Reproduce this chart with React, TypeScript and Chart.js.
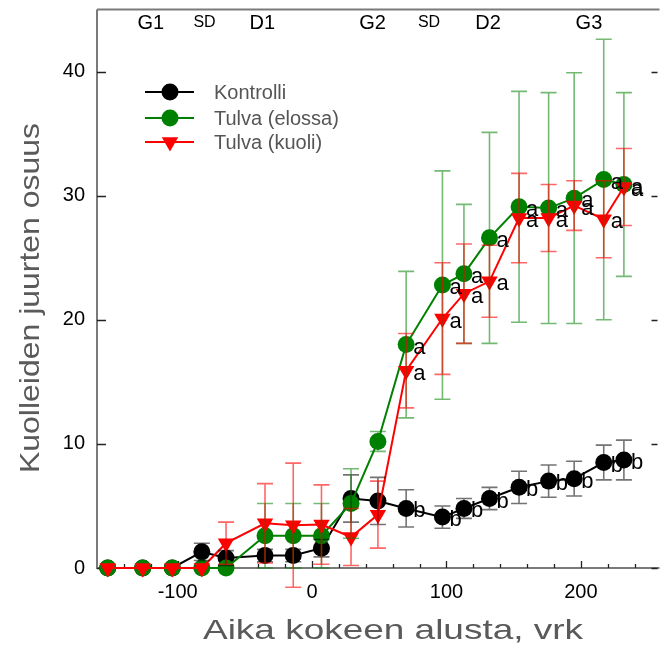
import React, { useEffect, useRef } from "react";
import { Chart, registerables } from "chart.js";
Chart.register(...registerables);

// ---- data ----
const days = [-152, -126, -104, -82, -64, -35, -14, 7, 29, 49, 70, 97, 113, 132, 154, 176, 195, 217, 232];

const kontrolli = [0, 0, 0, 1.3, 0.8, 1.0, 1.0, 1.6, 5.6, 5.4, 4.8, 4.1, 4.8, 5.6, 6.5, 7.0, 7.2, 8.5, 8.7];
const kontrolliErr = [0, 0, 0, 0.7, 0.6, 0.5, 0.5, 0.7, 1.9, 1.9, 1.5, 0.9, 0.8, 0.9, 1.3, 1.3, 1.4, 1.4, 1.6];

const elossa = [0, 0, 0, 0, 0, 2.6, 2.6, 2.6, 5.2, 10.2, 18.0, 22.8, 23.7, 26.6, 29.1, 29.0, 29.8, 31.3, 30.9];
const elossaErr = [0, 0, 0, 0, 0, 2.6, 2.6, 2.6, 2.8, 0.8, 5.9, 9.2, 5.6, 8.5, 9.3, 9.3, 10.1, 11.3, 7.4];

const kuoli = [0, 0, 0, 0, 2.0, 3.6, 3.45, 3.5, 2.5, 4.3, 15.9, 20.1, 22.1, 23.1, 28.2, 28.2, 29.2, 28.1, 30.7];
const kuoliErr = [0, 0, 0, 0, 1.7, 3.2, 5.0, 3.2, 2.3, 2.7, 3.0, 4.5, 4.0, 2.9, 3.6, 2.7, 2.0, 3.1, 3.1];

const kontrolliLetters = ["", "", "", "", "", "", "", "", "", "", "b", "b", "b", "b", "b", "b", "b", "b", "b"];
const elossaLetters = ["", "", "", "", "", "", "", "", "", "", "a", "a", "a", "a", "a", "a", "a", "a", "a"];
const kuoliLetters = ["", "", "", "", "", "", "", "", "", "", "a", "a", "a", "a", "a", "a", "a", "a", "a"];

const xTicks = [-100, 0, 100, 200];
const yTicks = [0, 10, 20, 30, 40];
const phaseLabels = ["G1", "SD", "D1", "G2", "SD", "D2", "G3"];
const phaseX = [-120, -80, -37, 45, 87, 131, 206];
const seriesNames = ["Kontrolli", "Tulva (elossa)", "Tulva (kuoli)"];

const FONT = '"Liberation Sans", Arial, Helvetica, sans-serif';

export default function App() {
  const ref = useRef<HTMLCanvasElement>(null);

  useEffect(() => {
    if (!ref.current) return;

    const errSets = [
      { vals: kontrolli, err: kontrolliErr, color: "rgba(0,0,0,0.55)", letters: kontrolliLetters, ds: 0 },
      { vals: elossa, err: elossaErr, color: "rgba(0,128,0,0.55)", letters: elossaLetters, ds: 1 },
      { vals: kuoli, err: kuoliErr, color: "rgba(255,0,0,0.6)", letters: kuoliLetters, ds: 2 },
    ];

    const plugin = {
      id: "custom",
      beforeDatasetsDraw(chart: any) {
        const ctx = chart.ctx;
        const a = chart.chartArea;
        const xs = chart.scales.x;
        const ys = chart.scales.y;
        ctx.save();
        // frame
        ctx.strokeStyle = "#7a7a7a";
        ctx.lineWidth = 2;
        ctx.beginPath();
        ctx.moveTo(a.left, a.top);
        ctx.lineTo(a.right + 2, a.top);
        ctx.moveTo(a.left, a.top);
        ctx.lineTo(a.left, a.bottom);
        ctx.lineTo(a.right + 2, a.bottom);
        ctx.stroke();
        // y ticks inside (left and right)
        ctx.strokeStyle = "#222";
        ctx.lineWidth = 1.3;
        ctx.beginPath();
        for (const v of yTicks) {
          const py = Math.round(ys.getPixelForValue(v)) + 0.5;
          ctx.moveTo(a.left, py);
          ctx.lineTo(a.left + 9, py);
          ctx.moveTo(a.right - 6, py);
          ctx.lineTo(a.right, py);
        }
        // x ticks inside, minor every 20
        for (let v = -140; v <= 250; v += 20) {
          const px = Math.round(xs.getPixelForValue(v)) + 0.5;
          const len = v % 100 === 0 ? 7 : 4;
          ctx.moveTo(px, a.bottom);
          ctx.lineTo(px, a.bottom - len);
        }
        ctx.stroke();
        ctx.restore();
      },
      afterDatasetsDraw(chart: any) {
        const ctx = chart.ctx;
        const xs = chart.scales.x;
        const ys = chart.scales.y;
        ctx.save();
        // error bars
        for (const s of errSets) {
          ctx.strokeStyle = s.color;
          ctx.lineWidth = 1.6;
          ctx.beginPath();
          for (let i = 0; i < days.length; i++) {
            if (!s.err[i]) continue;
            const px = xs.getPixelForValue(days[i]);
            const top = ys.getPixelForValue(s.vals[i] + s.err[i]);
            const bot = ys.getPixelForValue(s.vals[i] - s.err[i]);
            ctx.moveTo(px, top);
            ctx.lineTo(px, bot);
            ctx.moveTo(px - 8, top);
            ctx.lineTo(px + 8, top);
            ctx.moveTo(px - 8, bot);
            ctx.lineTo(px + 8, bot);
          }
          ctx.stroke();
        }
        // significance letters
        ctx.fillStyle = "#000";
        ctx.font = `22px ${FONT}`;
        ctx.textAlign = "left";
        ctx.textBaseline = "middle";
        for (const s of errSets) {
          const meta = chart.getDatasetMeta(s.ds);
          for (let i = 0; i < days.length; i++) {
            if (!s.letters[i]) continue;
            const el = meta.data[i];
            ctx.fillText(s.letters[i], el.x + 7, el.y + 3);
          }
        }
        ctx.restore();
      },
      afterDraw(chart: any) {
        const ctx = chart.ctx;
        const xs = chart.scales.x;
        ctx.save();
        // phase labels
        ctx.fillStyle = "#000";
        ctx.textAlign = "center";
        ctx.textBaseline = "middle";
        phaseLabels.forEach((t, i) => {
          ctx.font = t === "SD" ? `16px ${FONT}` : `20px ${FONT}`;
          ctx.fillText(t, xs.getPixelForValue(phaseX[i]), 23);
        });
        // legend
        const colors = ["#000", "#008000", "#ff0000"];
        const rows = [92, 118, 142];
        seriesNames.forEach((n, i) => {
          const y = rows[i];
          ctx.strokeStyle = colors[i];
          ctx.lineWidth = 2;
          ctx.beginPath();
          ctx.moveTo(145, y);
          ctx.lineTo(194, y);
          ctx.stroke();
          ctx.fillStyle = colors[i];
          ctx.beginPath();
          if (i < 2) {
            ctx.arc(170, y, 8.5, 0, Math.PI * 2);
          } else {
            const r = 9.5;
            ctx.moveTo(170 - r * 0.866, y - r * 0.5);
            ctx.lineTo(170 + r * 0.866, y - r * 0.5);
            ctx.lineTo(170, y + r);
            ctx.closePath();
          }
          ctx.fill();
          ctx.fillStyle = "#555";
          ctx.font = `20px ${FONT}`;
          ctx.textAlign = "left";
          ctx.textBaseline = "middle";
          ctx.fillText(n, 214, y + 1);
        });
        // axis titles (stretched along text direction)
        ctx.fillStyle = "#5a5a5a";
        ctx.textAlign = "center";
        ctx.textBaseline = "middle";
        ctx.font = `28px ${FONT}`;
        const xt = "Aika kokeen alusta, vrk";
        const wx = ctx.measureText(xt).width;
        ctx.save();
        ctx.translate(393, 631);
        ctx.scale(380 / wx, 1);
        ctx.fillText(xt, 0, 0);
        ctx.restore();
        const yt = "Kuolleiden juurten osuus";
        ctx.font = `28px ${FONT}`;
        const wy = ctx.measureText(yt).width;
        ctx.save();
        ctx.translate(31, 298);
        ctx.rotate(-Math.PI / 2);
        ctx.scale(350 / wy, 1);
        ctx.fillText(yt, 0, 0);
        ctx.restore();
        ctx.restore();
      },
    };

    const mk = (vals: number[]) => days.map((d, i) => ({ x: d, y: vals[i] }));

    const chart = new Chart(ref.current, {
      type: "line",
      data: {
        datasets: [
          {
            label: seriesNames[0],
            data: mk(kontrolli),
            borderColor: "#000",
            backgroundColor: "#000",
            borderWidth: 2,
            pointRadius: 8.5,
            pointBorderWidth: 0,
            pointStyle: "circle",
            order: 3,
            clip: false,
          } as any,
          {
            label: seriesNames[1],
            data: mk(elossa),
            borderColor: "#008000",
            backgroundColor: "#008000",
            borderWidth: 2,
            pointRadius: 8.5,
            pointBorderWidth: 0,
            pointStyle: "circle",
            order: 2,
            clip: false,
          },
          {
            label: seriesNames[2],
            data: mk(kuoli),
            borderColor: "#ff0000",
            backgroundColor: "#ff0000",
            borderWidth: 2,
            pointRadius: 9.5,
            pointBorderWidth: 0,
            pointStyle: "triangle",
            pointRotation: 180,
            order: 1,
            clip: false,
          },
        ],
      },
      options: {
        responsive: false,
        animation: false,
        devicePixelRatio: 1,
        layout: { padding: { top: 8, right: 0, left: 0, bottom: 0 } },
        plugins: { legend: { display: false }, tooltip: { enabled: false } },
        scales: {
          x: {
            type: "linear",
            min: -160,
            max: 257,
            grid: { display: false, drawTicks: false },
            border: { display: false },
            afterBuildTicks: (s: any) => {
              s.ticks = xTicks.map((v) => ({ value: v }));
            },
            afterFit: (s: any) => {
              s.height = 92;
              s.paddingLeft = 0;
              s.paddingRight = 0;
            },
            ticks: {
              padding: 12,
              maxRotation: 0,
              autoSkip: false,
              color: "#000",
              font: { family: FONT, size: 20 },
            },
          },
          y: {
            type: "linear",
            min: 0,
            max: 45,
            grid: { display: false, drawTicks: false },
            border: { display: false },
            afterBuildTicks: (s: any) => {
              s.ticks = yTicks.map((v) => ({ value: v }));
            },
            afterFit: (s: any) => {
              s.width = 97;
              s.paddingTop = 0;
              s.paddingBottom = 0;
            },
            ticks: {
              padding: 12,
              color: "#000",
              font: { family: FONT, size: 20 },
            },
          },
        },
      },
      plugins: [plugin],
    });
    return () => chart.destroy();
  }, []);

  return (
    <div style={{ position: "absolute", left: 0, top: 0, width: 667, height: 660 }}>
      <canvas ref={ref} width={667} height={660} style={{ display: "block", width: 667, height: 660 }} />
    </div>
  );
}
